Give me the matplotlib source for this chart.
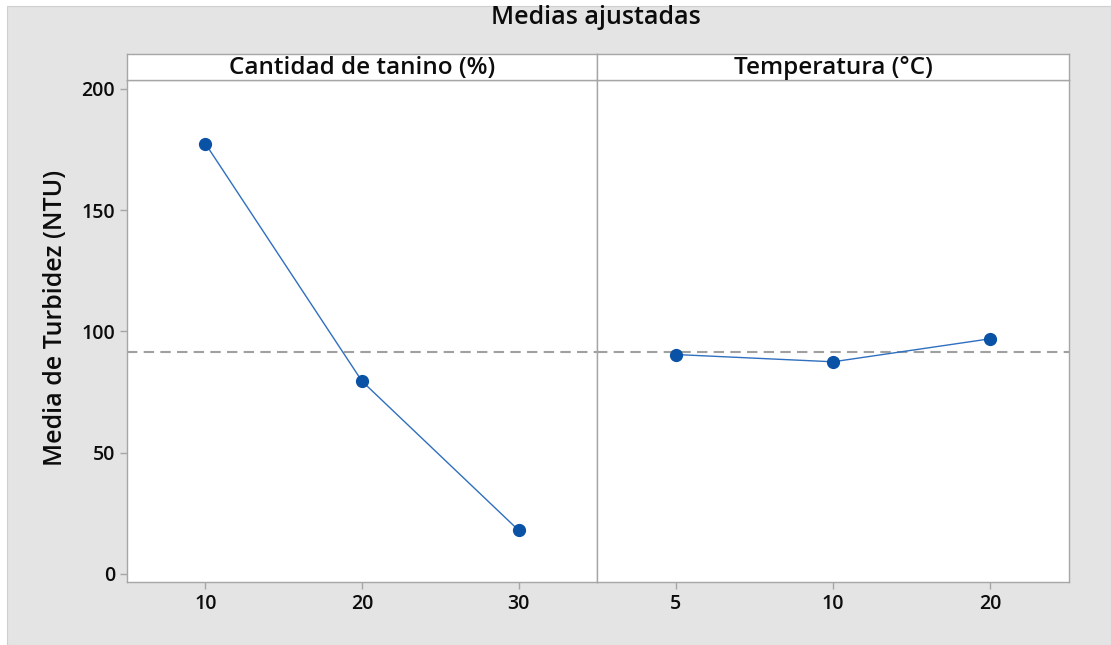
import matplotlib
matplotlib.use("Agg")
import matplotlib.pyplot as plt
from matplotlib.patches import Rectangle
import numpy as np

plt.rcParams["font.family"] = ["Open Sans", "DejaVu Sans"]

# fitted means per factor level
tanino_levels = ["10", "20", "30"]
tanino_means = [177.5, 79.5, 18.0]
temp_levels = ["5", "10", "20"]
temp_means = [90.5, 87.5, 97.0]

factors = [("Cantidad de tanino (%)", tanino_levels, tanino_means),
           ("Temperatura (°C)", temp_levels, temp_means)]
grand_mean = np.mean(tanino_means + temp_means)

W, H = 1111, 645
fig = plt.figure(figsize=(W / 100, H / 100), dpi=100, facecolor="white")
fig.patches.append(Rectangle((7 / W, 0), 1 - 7 / W, 1 - 6 / H,
                             transform=fig.transFigure, fc="#e4e4e4",
                             ec="#d0d0d0", lw=0.8, zorder=-10))

x0, x1, xm = 127, 1069, 597
y_top, y_hdr, y_bot = 54, 80, 582
SP = "#a6a6a6"
INK = "#0c0c0c"

axes = []
for i, (name, levels, means) in enumerate(factors):
    left = x0 if i == 0 else xm
    right = xm if i == 0 else x1
    ax = fig.add_axes([left / W, 1 - y_bot / H, (right - left) / W,
                       (y_bot - y_hdr) / H])
    xs = np.arange(len(levels))
    ax.axhline(grand_mean, color="#a0a0a0", ls=(0, (5, 3)), lw=1.5, zorder=1)
    ax.plot(xs, means, color="#2f6fbf", lw=1.0, zorder=2)
    ax.plot(xs, means, "o", color="#0a52a5", ms=8.5, zorder=3)
    ax.set_xlim(-0.5, 2.5)
    ax.set_ylim(-3.3, 203.7)
    ax.set_xticks(xs)
    ax.set_xticklabels(levels)
    ax.set_yticks([0, 50, 100, 150, 200])
    for s in ax.spines.values():
        s.set_color(SP)
        s.set_linewidth(1.0)
    ax.tick_params(colors=SP, labelcolor=INK, labelsize=14, length=5,
                   width=1.0)
    for lab in ax.get_xticklabels() + ax.get_yticklabels():
        lab.set_fontweight("semibold")
    if i == 1:
        ax.tick_params(axis="y", left=False, labelleft=False)
    # panel header strip
    hdr = fig.add_axes([left / W, 1 - y_hdr / H, (right - left) / W,
                        (y_hdr - y_top) / H])
    hdr.set_xticks([])
    hdr.set_yticks([])
    for s in hdr.spines.values():
        s.set_color(SP)
        s.set_linewidth(1.0)
    hdr.text(0.5, 0.47, name, ha="center", va="center", fontsize=17.5,
             fontweight="semibold", color=INK, transform=hdr.transAxes)
    axes.append(ax)

axes[0].set_ylabel("Media de Turbidez (NTU)", fontsize=18, color=INK,
                   fontweight="semibold", va="center")
axes[0].yaxis.set_label_coords(-0.153, 0.526)
fig.text(596 / W, 1 - 17 / H, "Medias ajustadas", ha="center", va="center",
         fontsize=18, fontweight="semibold", color=INK)

fig.savefig("out.png", dpi=100, facecolor=fig.get_facecolor())
